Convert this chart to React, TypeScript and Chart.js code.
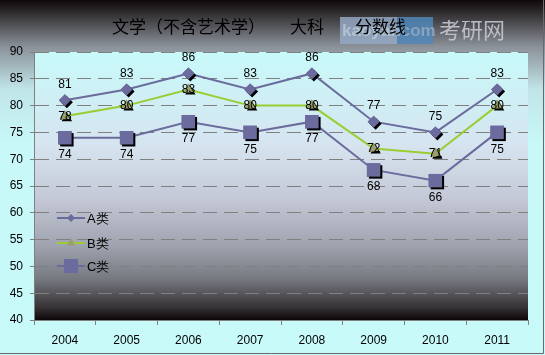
import React, { useEffect, useRef } from 'react';
import { Chart, registerables } from 'chart.js';

Chart.register(...registerables);

const years = ['2004', '2005', '2006', '2007', '2008', '2009', '2010', '2011'];
const seriesA = [81, 83, 86, 83, 86, 77, 75, 83];
const seriesB = [78, 80, 83, 80, 80, 72, 71, 80];
const seriesC = [74, 74, 77, 75, 77, 68, 66, 75];
const seriesNames = ['A类', 'B类', 'C类'];
const yMin = 40;
const yMax = 90;
const yStep = 5;
const titleParts = ['文学（不含艺术学）', '大科', '分数线'];

const W = 545;
const H = 355;
const FONT = "'Liberation Sans', Arial, sans-serif";
const SLATE = '#6b6b9d';
const GREEN = '#9acd32';

function shapePath(ctx: CanvasRenderingContext2D, kind: number, x: number, y: number, r: number) {
  ctx.beginPath();
  if (kind === 0) {
    ctx.moveTo(x, y - r);
    ctx.lineTo(x + r, y);
    ctx.lineTo(x, y + r);
    ctx.lineTo(x - r, y);
  } else if (kind === 1) {
    ctx.moveTo(x, y - r);
    ctx.lineTo(x + 0.866 * r, y + 0.5 * r);
    ctx.lineTo(x - 0.866 * r, y + 0.5 * r);
  } else {
    const s = r * Math.SQRT1_2;
    ctx.rect(x - s, y - s, 2 * s, 2 * s);
  }
  ctx.closePath();
}

const bgPlugin = {
  id: 'bgPlugin',
  beforeDraw(chart: any) {
    const ctx = chart.ctx as CanvasRenderingContext2D;
    const a = chart.chartArea;
    ctx.save();
    const g = ctx.createLinearGradient(0, 0, 0, H);
    g.addColorStop(0, '#0e0a0a');
    g.addColorStop(0.03, '#2a2628');
    g.addColorStop(0.13, '#8a9098');
    g.addColorStop(0.25, '#c0e4e8');
    g.addColorStop(0.4, '#c8f8f8');
    g.addColorStop(1, '#c8fafa');
    ctx.fillStyle = g;
    ctx.fillRect(0, 0, W, H);

    const pg = ctx.createLinearGradient(0, a.top, 0, a.bottom);
    pg.addColorStop(0, '#c8fafa');
    pg.addColorStop(0.35, '#d6e4f0');
    pg.addColorStop(0.55, '#c4c8d6');
    pg.addColorStop(0.72, '#a0a4b0');
    pg.addColorStop(0.85, '#74787e');
    pg.addColorStop(0.95, '#383438');
    pg.addColorStop(1, '#0c0808');
    ctx.fillStyle = pg;
    ctx.fillRect(a.left, a.top, a.right - a.left, a.bottom - a.top);

    // watermark
    ctx.fillStyle = 'rgba(150,172,200,0.8)';
    ctx.fillRect(340, 17, 57, 27);
    ctx.fillStyle = 'rgba(80,135,185,0.85)';
    ctx.fillRect(397, 17, 36, 27);
    ctx.fillStyle = 'rgba(225,235,245,0.45)';
    ctx.font = `bold 17px ${FONT}`;
    ctx.textBaseline = 'middle';
    ctx.textAlign = 'left';
    ctx.fillText('kaoyan', 342, 31);
    ctx.fillStyle = 'rgba(150,170,195,0.8)';
    ctx.fillText('.com', 396, 31);
    ctx.fillStyle = 'rgba(195,200,208,0.9)';
    ctx.font = `22px 'Noto Sans CJK SC', sans-serif`;
    ctx.fillText('考研网', 439, 30);

    // title
    ctx.fillStyle = '#000000';
    ctx.font = `17px 'Noto Sans CJK SC', sans-serif`;
    ctx.textBaseline = 'middle';
    ctx.fillText(titleParts[0], 112, 27);
    ctx.fillText(titleParts[1], 290, 27);
    ctx.fillText(titleParts[2], 355, 27);

    // border
    ctx.strokeStyle = '#6a6a6a';
    ctx.lineWidth = 1;
    ctx.beginPath();
    ctx.moveTo(543.5, 0);
    ctx.lineTo(543.5, 353.5);
    ctx.lineTo(0, 353.5);
    ctx.stroke();
    ctx.restore();
  },
};

const markerPlugin = {
  id: 'markerPlugin',
  afterDatasetDraw(chart: any, args: any) {
    const ctx = chart.ctx as CanvasRenderingContext2D;
    const meta = args.meta;
    const idx = args.index;
    ctx.save();
    meta.data.forEach((el: any) => {
      const r = el.options.radius;
      shapePath(ctx, idx, el.x + 2, el.y + 2, r);
      ctx.fillStyle = '#000000';
      ctx.fill();
      el.draw(ctx, chart.chartArea);
    });
    ctx.restore();
  },
  afterDatasetsDraw(chart: any) {
    const ctx = chart.ctx as CanvasRenderingContext2D;
    ctx.save();
    ctx.font = `12px ${FONT}`;
    ctx.fillStyle = '#000000';
    ctx.textAlign = 'center';
    ctx.textBaseline = 'middle';
    const offsets = [-16, 0, 17];
    chart.data.datasets.forEach((ds: any, i: number) => {
      const meta = chart.getDatasetMeta(i);
      meta.data.forEach((el: any, j: number) => {
        ctx.fillText(String(ds.data[j]), el.x, el.y + offsets[i]);
      });
    });

    // legend
    const lx = 57;
    const ly = [218, 243, 266];
    const colors = [SLATE, GREEN, SLATE];
    const fills = [SLATE, '#9aa06c', SLATE];
    const radii = [4, 5, 7];
    seriesNames.forEach((name, i) => {
      ctx.strokeStyle = colors[i];
      ctx.lineWidth = 2;
      ctx.beginPath();
      ctx.moveTo(lx, ly[i]);
      ctx.lineTo(lx + 28, ly[i]);
      ctx.stroke();
      shapePath(ctx, i, lx + 14, ly[i], i === 2 ? radii[i] * 1.414 : radii[i]);
      ctx.fillStyle = fills[i];
      ctx.fill();
      ctx.fillStyle = '#000000';
      ctx.textAlign = 'left';
      ctx.font = `13px ${FONT}`;
      ctx.fillText(name, lx + 30, ly[i] + 1);
    });
    ctx.restore();
  },
};

export default function App() {
  const ref = useRef<HTMLCanvasElement | null>(null);
  useEffect(() => {
    if (!ref.current) return;
    const chart = new Chart(ref.current, {
      type: 'line',
      data: {
        labels: years,
        datasets: [
          {
            label: seriesNames[0],
            data: seriesA,
            borderColor: SLATE,
            backgroundColor: SLATE,
            borderWidth: 2,
            pointStyle: 'rectRot',
            pointRadius: 6,
            pointBorderWidth: 0,
            pointBackgroundColor: SLATE,
          },
          {
            label: seriesNames[1],
            data: seriesB,
            borderColor: GREEN,
            backgroundColor: GREEN,
            borderWidth: 2,
            pointStyle: 'triangle',
            pointRadius: 6,
            pointBorderWidth: 0,
            pointBackgroundColor: '#9aa06c',
          },
          {
            label: seriesNames[2],
            data: seriesC,
            borderColor: SLATE,
            backgroundColor: SLATE,
            borderWidth: 2,
            pointStyle: 'rect',
            pointRadius: 9.5,
            pointBorderWidth: 0,
            pointBackgroundColor: SLATE,
          },
        ],
      },
      options: {
        responsive: false,
        animation: false,
        layout: { padding: { top: 52, right: 17, left: 0, bottom: 0 } },
        plugins: {
          legend: { display: false },
          title: { display: false },
          tooltip: { enabled: false },
        },
        scales: {
          x: {
            offset: true,
            grid: {
              offset: true,
              drawOnChartArea: false,
              tickLength: 5,
              tickColor: '#808080',
            },
            border: { color: '#808080', width: 1 },
            ticks: { color: '#000000', font: { family: FONT, size: 12 }, padding: 8, maxRotation: 0 },
            afterFit(scale: any) {
              scale.height = 35;
            },
          },
          y: {
            min: yMin,
            max: yMax,
            grid: {
              color: '#808080',
              tickLength: 4,
              tickColor: '#808080',
              tickBorderDash: [],
            },
            border: { color: '#808080', width: 1, dash: [14, 7] },
            ticks: { stepSize: yStep, color: '#000000', font: { family: FONT, size: 12 }, padding: 7 },
            afterFit(scale: any) {
              scale.width = 34;
            },
          },
        },
      },
      plugins: [bgPlugin, markerPlugin],
    });
    return () => chart.destroy();
  }, []);
  return (
    <div style={{ position: 'fixed', left: 0, top: 0, width: W, height: H }}>
      <canvas ref={ref} width={W} height={H} style={{ display: 'block', width: W, height: H }} />
    </div>
  );
}
